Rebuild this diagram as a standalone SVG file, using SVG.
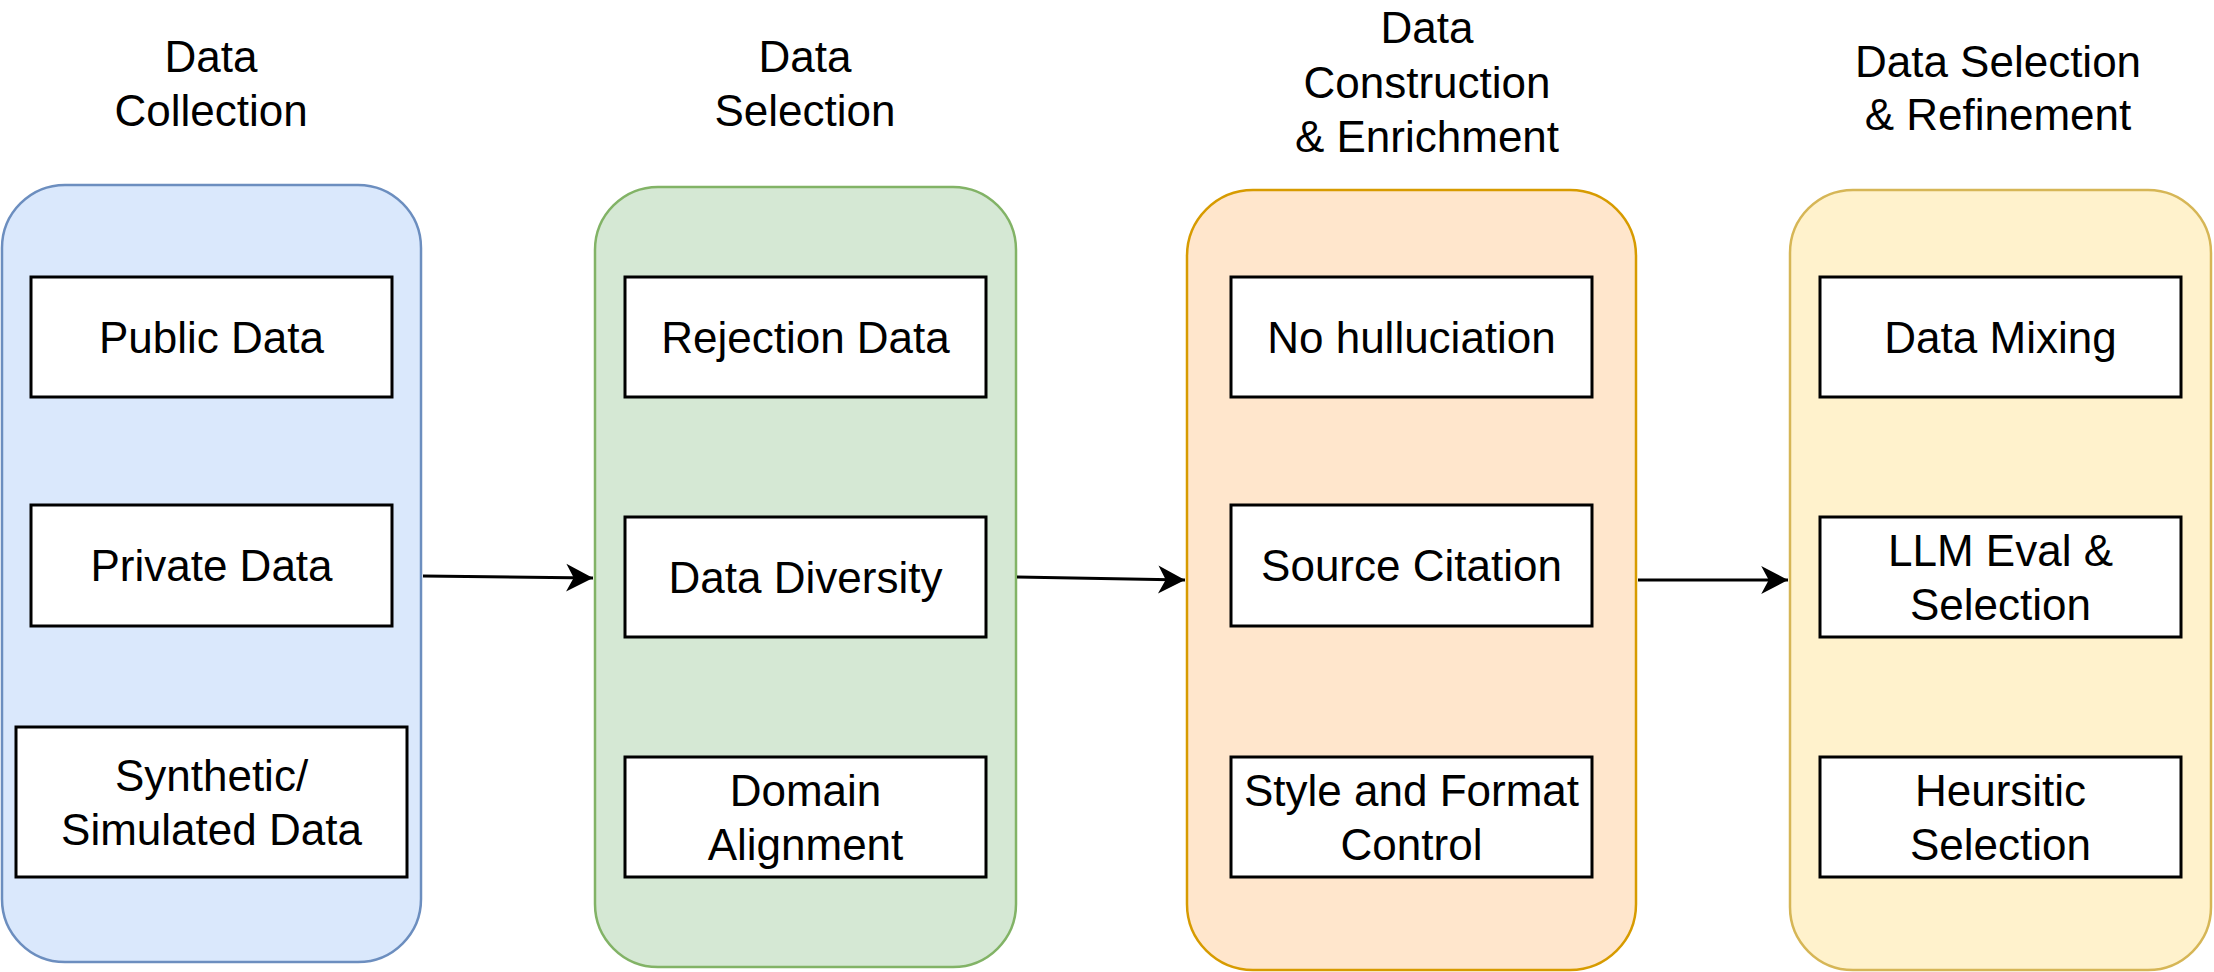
<svg xmlns="http://www.w3.org/2000/svg" width="2214" height="972" viewBox="0 0 2214 972">
<style>
text{font-family:"Liberation Sans",Arial,sans-serif;font-size:44px;fill:#000;text-anchor:middle}
.box{fill:#fff;stroke:#000;stroke-width:3}
.c{stroke-width:2.5}
.edge{fill:none;stroke:#000;stroke-width:3}
</style>
<defs>
<marker id="arr" markerUnits="userSpaceOnUse" markerWidth="30" markerHeight="30" viewBox="-26 -14 28 28" refX="0" refY="0" orient="auto">
<path d="M0,0 L-25,-13 L-18,0 L-25,13 Z" fill="#000" stroke="none"/>
</marker>
</defs>
<rect width="2214" height="972" fill="#fff"/>

<g id="col-collection">
<text x="211" y="72">Data</text>
<text x="211" y="126">Collection</text>
<rect class="c" x="2" y="185" width="419" height="777" rx="63" fill="#dae8fc" stroke="#6c8ebf"/>
</g>
<g id="col-selection">
<text x="805" y="72">Data</text>
<text x="805" y="126">Selection</text>
<rect class="c" x="595" y="187" width="421" height="780" rx="63" fill="#d5e8d4" stroke="#82b366"/>
</g>
<g id="col-construction">
<text x="1427" y="43">Data</text>
<text x="1427" y="98">Construction</text>
<text x="1427" y="152">&amp; Enrichment</text>
<rect class="c" x="1187" y="190" width="449" height="780" rx="66" fill="#ffe6cc" stroke="#d79b00"/>
</g>
<g id="col-refinement">
<text x="1998" y="77">Data Selection</text>
<text x="1998" y="130">&amp; Refinement</text>
<rect class="c" x="1790" y="190" width="421" height="780" rx="63" fill="#fff2cc" stroke="#d6b656"/>
</g>

<g id="public-data"><rect class="box" x="31" y="277" width="361" height="120"/><text x="211.5" y="353">Public Data</text></g>
<g id="private-data"><rect class="box" x="31" y="505" width="361" height="121"/><text x="211.5" y="581">Private Data</text></g>
<g id="synthetic-data"><rect class="box" x="16" y="727" width="391" height="150"/><text x="211.5" y="791">Synthetic/</text><text x="211.5" y="845">Simulated Data</text></g>

<g id="rejection-data"><rect class="box" x="625" y="277" width="361" height="120"/><text x="805.5" y="353">Rejection Data</text></g>
<g id="data-diversity"><rect class="box" x="625" y="517" width="361" height="120"/><text x="805.5" y="593">Data Diversity</text></g>
<g id="domain-alignment"><rect class="box" x="625" y="757" width="361" height="120"/><text x="805.5" y="806">Domain</text><text x="805.5" y="860">Alignment</text></g>

<g id="no-hallucination"><rect class="box" x="1231" y="277" width="361" height="120"/><text x="1411.5" y="353">No hulluciation</text></g>
<g id="source-citation"><rect class="box" x="1231" y="505" width="361" height="121"/><text x="1411.5" y="581">Source Citation</text></g>
<g id="style-format"><rect class="box" x="1231" y="757" width="361" height="120"/><text x="1411.5" y="806">Style and Format</text><text x="1411.5" y="860">Control</text></g>

<g id="data-mixing"><rect class="box" x="1820" y="277" width="361" height="120"/><text x="2000.5" y="353">Data Mixing</text></g>
<g id="llm-eval"><rect class="box" x="1820" y="517" width="361" height="120"/><text x="2000.5" y="566">LLM Eval &amp;</text><text x="2000.5" y="620">Selection</text></g>
<g id="heuristic"><rect class="box" x="1820" y="757" width="361" height="120"/><text x="2000.5" y="806">Heursitic</text><text x="2000.5" y="860">Selection</text></g>

<g id="connectors">
<path class="edge" d="M423,576 L593,578" marker-end="url(#arr)"/>
<path class="edge" d="M1017,577 L1185,580" marker-end="url(#arr)"/>
<path class="edge" d="M1638,580 L1788,580" marker-end="url(#arr)"/>
</g>
</svg>
